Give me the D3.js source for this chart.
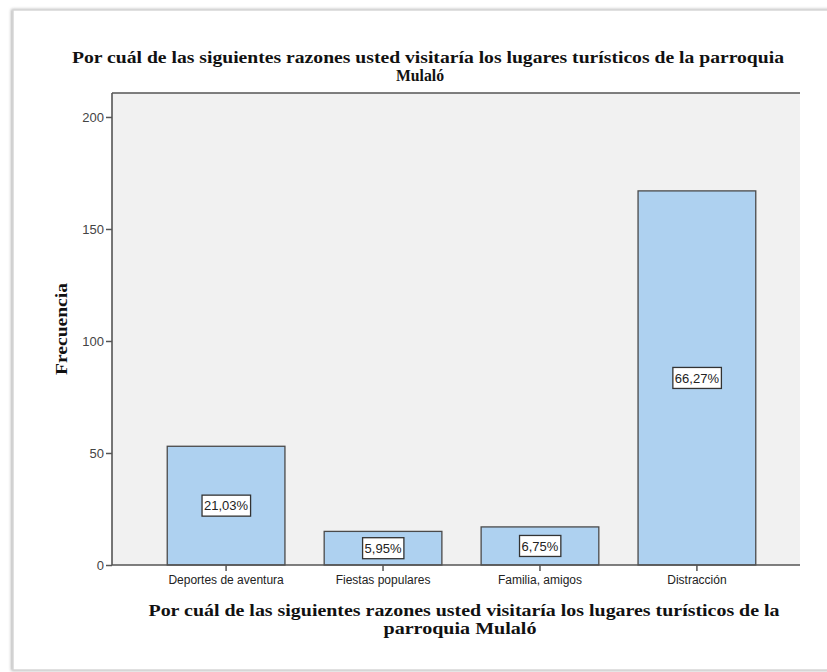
<!DOCTYPE html>
<html>
<head>
<meta charset="utf-8">
<script src="https://cdn.jsdelivr.net/npm/d3@7"></script>
<style>
html,body{margin:0;padding:0;background:#fff;}
svg{display:block;}
</style>
</head>
<body>
<svg id="chart" width="827" height="672"></svg>
<script>
const categories = ["Deportes de aventura", "Fiestas populares", "Familia, amigos", "Distracción"];
const counts = [53, 15, 17, 167];
const percentLabels = ["21,03%", "5,95%", "6,75%", "66,27%"];
const yTicks = [0, 50, 100, 150, 200];
const titleLines = ["Por cuál de las siguientes razones usted visitaría los lugares turísticos de la parroquia", "Mulaló"];
const xTitleLines = ["Por cuál de las siguientes razones usted visitaría los lugares turísticos de la", "parroquia Mulaló"];
const yTitle = "Frecuencia";

const svg = d3.select("#chart");

// outer frame (document page look)
const defs = svg.append("defs");
const f = defs.append("filter").attr("id","sh").attr("x","-5%").attr("y","-5%").attr("width","110%").attr("height","110%");
f.append("feDropShadow").attr("dx",-1).attr("dy",0).attr("stdDeviation",1.5).attr("flood-color","#888").attr("flood-opacity",0.7);
svg.append("rect").attr("x",13).attr("y",10).attr("width",830).attr("height",660)
  .attr("fill","#fff").attr("stroke","#d6d6d6").attr("stroke-width",1.5).attr("filter","url(#sh)");

const plotL = 112, plotR = 800, plotT = 93, plotB = 565;

const y = d3.scaleLinear().domain([0, 210.7]).range([plotB, plotT]);
const x = d3.scaleBand().domain(categories).range([128, 795]).paddingInner(0.25).paddingOuter(0.25);

// plot background
svg.append("rect").attr("x",plotL).attr("y",plotT).attr("width",plotR-plotL).attr("height",plotB-plotT).attr("fill","#f1f1f1");

// bars
svg.append("g").selectAll("rect").data(categories).join("rect")
  .attr("x", d => x(d)).attr("width", x.bandwidth())
  .attr("y", (d,i) => y(counts[i])).attr("height", (d,i) => y(0) - y(counts[i]))
  .attr("fill","#aed1f0").attr("stroke","#4a4a4a").attr("stroke-width",1.3);

// top border line
svg.append("line").attr("x1",plotL).attr("x2",plotR).attr("y1",plotT).attr("y2",plotT).attr("stroke","#555").attr("stroke-width",1.6);

// axes
const yAxis = d3.axisLeft(y).tickValues(yTicks).tickSize(6).tickPadding(2);
const gy = svg.append("g").attr("transform",`translate(${plotL},0)`).call(yAxis);
gy.select(".domain").attr("d",`M0,${plotT}V${plotB}`).attr("stroke","#555").attr("stroke-width",1.6);
gy.selectAll(".tick line").attr("stroke","#555").attr("stroke-width",1.5);
gy.selectAll(".tick text").attr("font-family","Arial, 'Liberation Sans', sans-serif").attr("font-size","13px").attr("fill","#444");

const xAxis = d3.axisBottom(x).tickSize(6).tickPadding(4);
const gx = svg.append("g").attr("transform",`translate(0,${plotB})`).call(xAxis);
gx.select(".domain").attr("d",`M${plotL},0H${plotR}`).attr("stroke","#555").attr("stroke-width",1.6);
gx.selectAll(".tick line").attr("stroke","#555").attr("stroke-width",1.5);
gx.selectAll(".tick text").attr("font-family","Arial, 'Liberation Sans', sans-serif").attr("font-size","12px").attr("fill","#222");

// percent label boxes
const lab = svg.append("g").selectAll("g").data(categories).join("g")
  .attr("transform",(d,i) => `translate(${x(d)+x.bandwidth()/2},${(y(counts[i])+y(0))/2})`);
lab.append("text").attr("text-anchor","middle").attr("dy","0.36em")
  .attr("font-family","Arial, 'Liberation Sans', sans-serif").attr("font-size","13px").attr("fill","#222")
  .text((d,i) => percentLabels[i]);
lab.each(function(){
  const g = d3.select(this);
  const bb = g.select("text").node().getBBox();
  g.insert("rect","text").attr("x",bb.x-2).attr("y",-10.5).attr("width",bb.width+4).attr("height",21)
    .attr("fill","#fff").attr("stroke","#333").attr("stroke-width",1.3);
});

const serif = "'Liberation Serif', 'Times New Roman', serif";
function serifText(txt, cx, by, len, size){
  const t = svg.append("text").attr("x",cx).attr("y",by).attr("text-anchor","middle").attr("font-family",serif)
    .attr("font-weight","bold").attr("font-size",size+"px").attr("fill","#111").text(txt);
  if (len) t.attr("textLength",len).attr("lengthAdjust","spacingAndGlyphs");
  return t;
}
// title
serifText(titleLines[0], 428, 63, 712, 17);
serifText(titleLines[1], 420, 81, 48, 17);

// x title
serifText(xTitleLines[0], 464, 616, 631, 17);
serifText(xTitleLines[1], 460, 634, 153, 17);

// y title
svg.append("text").attr("transform","translate(67,329) rotate(-90)").attr("text-anchor","middle").attr("font-family",serif)
  .attr("font-weight","bold").attr("font-size","17px").attr("fill","#111")
  .attr("textLength",92).attr("lengthAdjust","spacingAndGlyphs").text(yTitle);
</script>
</body>
</html>
